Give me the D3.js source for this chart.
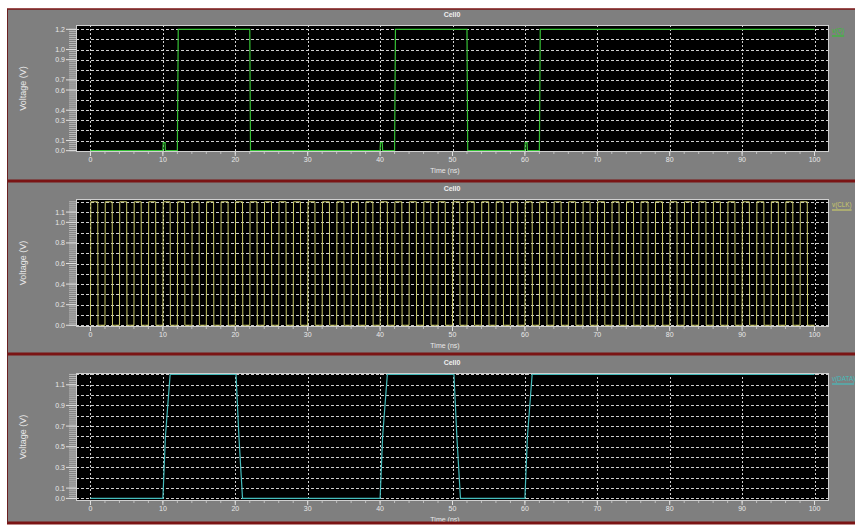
<!DOCTYPE html>
<html>
<head>
<meta charset="utf-8">
<script src="https://cdn.jsdelivr.net/npm/d3@7"></script>
<style>
body { margin: 0; background: #fff; }
svg { display: block; font-family: "Liberation Sans", "DejaVu Sans", sans-serif; }
</style>
</head>
<body>
<svg width="855" height="525"></svg>
<script>
// x ticks (ns)
const xTicks = [0, 10, 20, 30, 40, 50, 60, 70, 80, 90, 100]

// v(Q) - output, with small glitches when DATA rises
const qTime = [0, 10, 10.05, 10.3, 10.35, 12, 12.12, 22, 22.1, 40, 40.05, 40.3, 40.35, 42, 42.12, 52, 52.1, 60, 60.05, 60.3, 60.35, 62, 62.12, 100]
const qVolt = [0, 0, 0.08, 0.08, 0, 0, 1.2, 1.2, 0, 0, 0.08, 0.08, 0, 0, 1.2, 1.2, 0, 0, 0.08, 0.08, 0, 0, 1.2, 1.2]
const qLabels = [0.0, 0.1, 0.3, 0.4, 0.6, 0.7, 0.9, 1.0, 1.2]

// v(CLK) - rising edges (ns), each pulse 1 ns high
const clkRise = [0, 2, 4, 6, 8, 10, 12, 14, 16, 18, 20, 22, 24, 26, 28, 30, 32, 34, 36, 38, 40, 42, 44, 46, 48,
  50, 52, 54, 56, 58, 60, 62, 64, 66, 68, 70, 72, 74, 76, 78, 80, 82, 84, 86, 88, 90, 92, 94, 96, 98]
const clkHighWidth = 1
const clkHigh = 1.2
const clkLabels = [0.0, 0.2, 0.4, 0.6, 0.8, 1.0, 1.1]

// v(DATA)
const dataTime = [0, 10, 10.35, 11, 20.1, 20.5, 21, 40, 40.35, 41, 50.2, 50.6, 51.1, 60, 60.35, 61, 100]
const dataVolt = [0, 0, 0.6, 1.2, 1.2, 0.6, 0, 0, 0.6, 1.2, 1.2, 0.6, 0, 0, 0.6, 1.2, 1.2]
const dataLabels = [0.0, 0.1, 0.3, 0.5, 0.7, 0.9, 1.1]

// build clk points from the edges
const clkPts = [[0, 0]]
clkRise.forEach(function (t) {
  clkPts.push([t, 0], [t + 0.04, clkHigh], [t + clkHighWidth, clkHigh], [t + clkHighWidth + 0.04, 0])
})
clkPts.push([100, 0])

const svg = d3.select("svg")
const left = 76, right = 829
const x = d3.scaleLinear().domain([-2, 102]).range([left, right])

const panels = [
  { y0: 9, y1: 180, top: 25, bottom: 152, dom: [-0.013, 1.243], labels: qLabels,
    pts: qTime.map((t, i) => [t, qVolt[i]]), color: "#36c236", w: 1.2, name: "v(Q)" },
  { y0: 182, y1: 353, top: 199, bottom: 327, dom: [-0.017, 1.227], labels: clkLabels,
    pts: clkPts, color: "#c9c96a", w: 1, name: "v(CLK)" },
  { y0: 355, y1: 523, top: 373, bottom: 501, dom: [-0.025, 1.214], labels: dataLabels,
    pts: dataTime.map((t, i) => [t, dataVolt[i]]), color: "#45bcbc", w: 1.2, name: "v(DATA)" }
]

panels.forEach(function (p) {
  const y = d3.scaleLinear().domain(p.dom).range([p.bottom, p.top])
  const g = svg.append("g")

  // panel background
  g.append("rect").attr("x", 7).attr("y", p.y0).attr("width", 848).attr("height", p.y1 - p.y0)
    .attr("fill", "#7f7f7f")

  g.append("rect").attr("x", left).attr("y", p.top).attr("width", right - left).attr("height", p.bottom - p.top)
    .attr("fill", "#000")

  // grid
  g.selectAll(".hg").data(d3.range(0, 13).map(i => i / 10)).join("line")
    .attr("x1", left).attr("x2", right)
    .attr("y1", d => Math.round(y(d)) + 0.5).attr("y2", d => Math.round(y(d)) + 0.5)
    .attr("stroke", "#d0d0d0").attr("stroke-width", 1).attr("stroke-dasharray", "3,2")
  g.selectAll(".vg").data(xTicks).join("line")
    .attr("x1", d => Math.round(x(d)) + 0.5).attr("x2", d => Math.round(x(d)) + 0.5)
    .attr("y1", p.top).attr("y2", p.bottom)
    .attr("stroke", "#d0d0d0").attr("stroke-width", 1).attr("stroke-dasharray", "2,2")

  // trace
  const line = d3.line().x(d => x(d[0])).y(d => y(d[1]))
  g.append("path").datum(p.pts).attr("d", line)
    .attr("fill", "none").attr("stroke", p.color).attr("stroke-width", p.w)

  // frame
  g.append("rect").attr("x", left + 0.5).attr("y", p.top + 0.5).attr("width", right - left - 1)
    .attr("height", p.bottom - p.top - 1).attr("fill", "none").attr("stroke", "#d0d0d0")

  // y axis ticks: minor comb + labelled majors
  g.selectAll(".ym").data(d3.range(0, 61).map(i => i * 0.02).filter(v => v <= p.dom[1])).join("line")
    .attr("x1", left - 7).attr("x2", left)
    .attr("y1", d => y(d)).attr("y2", d => y(d))
    .attr("stroke", "#c8c8c8").attr("stroke-width", 0.8)
  g.selectAll(".yM").data(p.labels).join("line")
    .attr("x1", left - 10).attr("x2", left)
    .attr("y1", d => y(d)).attr("y2", d => y(d))
    .attr("stroke", "#e0e0e0").attr("stroke-width", 1)
  g.selectAll(".yl").data(p.labels).join("text")
    .attr("x", left - 11).attr("y", d => y(d) + 2.5)
    .attr("text-anchor", "end").attr("font-size", 7).attr("fill", "#e8e8e8")
    .text(d => d3.format(".1f")(d))

  // x axis ticks
  g.selectAll(".xm").data(d3.range(0, 51).map(i => i * 2)).join("line")
    .attr("x1", d => x(d)).attr("x2", d => x(d))
    .attr("y1", p.bottom).attr("y2", p.bottom + 2)
    .attr("stroke", "#d0d0d0").attr("stroke-width", 0.8)
  g.selectAll(".xM").data(xTicks).join("line")
    .attr("x1", d => x(d)).attr("x2", d => x(d))
    .attr("y1", p.bottom).attr("y2", p.bottom + 4)
    .attr("stroke", "#e0e0e0")
  g.selectAll(".xl").data(xTicks).join("text")
    .attr("x", d => x(d)).attr("y", p.bottom + 10)
    .attr("text-anchor", "middle").attr("font-size", 7).attr("fill", "#e8e8e8")
    .text(d => d)

  // titles
  g.append("text").attr("x", 452).attr("y", p.top - 8).attr("text-anchor", "middle")
    .attr("font-size", 7).attr("font-weight", "bold").attr("fill", "#f0f0f0").text("Cell0")
  g.append("text").attr("x", 445).attr("y", p.bottom + 21).attr("text-anchor", "middle")
    .attr("font-size", 7).attr("fill", "#e8e8e8").text("Time (ns)")
  g.append("text").attr("transform", "translate(26," + ((p.top + p.bottom) / 2) + ") rotate(-90)")
    .attr("text-anchor", "middle").attr("font-size", 9).attr("fill", "#e8e8e8").text("Voltage (V)")

  // legend
  const lt = g.append("text").attr("x", 832).attr("y", p.top + 8).attr("font-size", 6.3)
    .attr("fill", p.color).text(p.name)
  const lw = Math.min(lt.node().getComputedTextLength(), 22)
  g.append("line").attr("x1", 832).attr("x2", 832 + lw).attr("y1", p.top + 11).attr("y2", p.top + 11)
    .attr("stroke", p.color).attr("stroke-width", 1.2)
})

// dark red separators and border
const sep = [9, 181, 354, 523]
svg.selectAll(".sep").data(sep).join("line")
  .attr("x1", 7).attr("x2", 855).attr("y1", d => d).attr("y2", d => d)
  .attr("stroke", "#7a1414").attr("stroke-width", (d, i) => i === 0 ? 1.5 : 3)
svg.append("line").attr("x1", 7.5).attr("x2", 7.5).attr("y1", 9).attr("y2", 523)
  .attr("stroke", "#6a2020").attr("stroke-width", 1)
</script>
</body>
</html>
